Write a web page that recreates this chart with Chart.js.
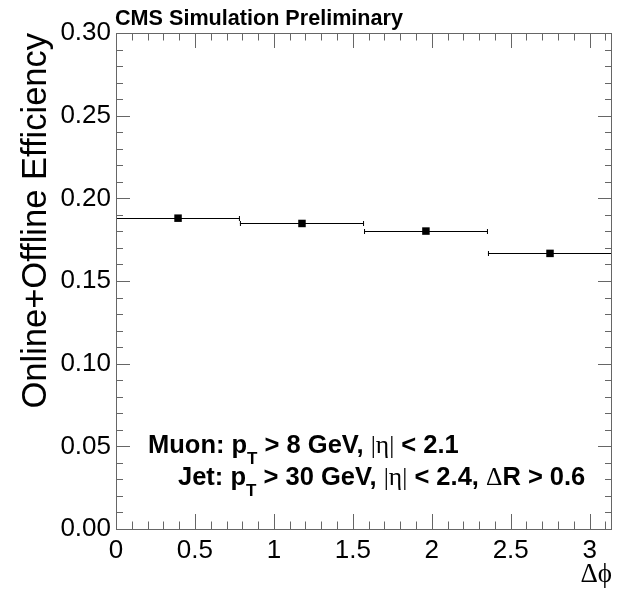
<!DOCTYPE html>
<html>
<head>
<meta charset="utf-8">
<style>
  html, body { margin: 0; padding: 0; background: #fff; }
  #wrap { width: 625px; height: 591px; }
</style>
<script src="https://cdn.jsdelivr.net/npm/chart.js"></script>
</head>
<body>
<div id="wrap"><canvas id="effChart" width="625" height="591"></canvas></div>
<script>
    // bins in delta phi (0 .. pi, four bins)
    const binLow = [0, 0.785, 1.571, 2.356];
    const binHigh = [0.785, 1.571, 2.356, 3.1416];
    const binCenters = [0.393, 1.178, 1.963, 2.749];
    const efficiency = [0.188, 0.1848, 0.1802, 0.1667];

    const xTickValues = [0, 0.5, 1, 1.5, 2, 2.5, 3];
    const xTickLabels = ['0', '0.5', '1', '1.5', '2', '2.5', '3'];
    const yTickLabels = ['0.00', '0.05', '0.10', '0.15', '0.20', '0.25', '0.30'];

    const headerText = 'CMS Simulation Preliminary';
    const muonLine = [['Muon: p', 'b'], ['T', 's'], [' > 8 GeV, ', 'b'], ['|\u03B7|', 'g'], [' < 2.1', 'b']];
    const jetLine = [['Jet: p', 'b'], ['T', 's'], [' > 30 GeV, ', 'b'], ['|\u03B7|', 'g'], [' < 2.4, ', 'b'], ['\u0394', 'g'], ['R > 0.6', 'b']];

    const fonts = {
        b: 'bold 25.5px "Liberation Sans", Arial, sans-serif',
        s: 'bold 17px "Liberation Sans", Arial, sans-serif',
        g: '25.5px "Liberation Serif", "Times New Roman", serif'
    };

    function drawLatex(ctx, parts, x, y) {
        parts.forEach(([txt, kind]) => {
            ctx.font = fonts[kind];
            ctx.fillText(txt, x, kind === 's' ? y + 11 : y);
            x += ctx.measureText(txt).width;
        });
    }

    // ROOT style frame: inward major/minor ticks on all sides, error bars, labels
    const rootFrame = {
        id: 'rootFrame',
        afterDatasetsDraw(chart) {
            const ctx = chart.ctx;
            const xs = chart.scales.x, ys = chart.scales.y;
            const a = chart.chartArea;
            ctx.save();

            // horizontal bin-width bars
            ctx.strokeStyle = '#000';
            ctx.lineWidth = 1;
            binLow.forEach((lo, i) => {
                const x1 = xs.getPixelForValue(lo), x2 = xs.getPixelForValue(binHigh[i]);
                const py = Math.round(ys.getPixelForValue(efficiency[i])) + 0.5;
                ctx.beginPath();
                ctx.moveTo(x1, py); ctx.lineTo(x2, py);
                ctx.moveTo(x1 + 0.5, py - 2.5); ctx.lineTo(x1 + 0.5, py + 2.5);
                ctx.moveTo(x2 - 0.5, py - 2.5); ctx.lineTo(x2 - 0.5, py + 2.5);
                ctx.stroke();
            });

            ctx.strokeStyle = '#666';
            ctx.lineWidth = 1;
            ctx.beginPath();
            // x ticks, every 0.1, major every 0.5
            for (let k = 0; k <= 31; k++) {
                const v = k / 10;
                const px = Math.round(xs.getPixelForValue(v)) + 0.5;
                const len = (k % 5 === 0) ? 15 : 7.5;
                ctx.moveTo(px, a.bottom); ctx.lineTo(px, a.bottom - len);
                ctx.moveTo(px, a.top); ctx.lineTo(px, a.top + len);
            }
            // y ticks, every 0.01, major every 0.05
            for (let k = 0; k <= 30; k++) {
                const v = k / 100;
                const py = Math.round(ys.getPixelForValue(v)) + 0.5;
                const len = (k % 5 === 0) ? 14 : 7;
                ctx.moveTo(a.left, py); ctx.lineTo(a.left + len, py);
                ctx.moveTo(a.right, py); ctx.lineTo(a.right - len, py);
            }
            ctx.stroke();
            ctx.strokeRect(Math.round(a.left) + 0.5, Math.round(a.top) + 0.5,
                Math.round(a.right - a.left) - 1, Math.round(a.bottom - a.top));

            ctx.fillStyle = '#000';
            ctx.textAlign = 'left';
            ctx.textBaseline = 'alphabetic';
            ctx.font = 'bold 21.6px "Liberation Sans", Arial, sans-serif';
            ctx.fillText(headerText, a.left - 1, 25);

            drawLatex(ctx, muonLine, 148, 453);
            drawLatex(ctx, jetLine, 178, 485);
            ctx.restore();
        }
    };

    const ctx = document.getElementById('effChart').getContext('2d');
    const effChart = new Chart(ctx, {
        type: 'scatter',
        data: {
            datasets: [{
                data: binCenters.map((x, i) => ({x: x, y: efficiency[i]})),
                pointStyle: 'rect',
                pointRadius: 5.3,
                pointHoverRadius: 5.3,
                backgroundColor: '#000',
                borderColor: '#000',
                borderWidth: 0
            }]
        },
        options: {
            responsive: false,
            animation: false,
            events: [],
            layout: { padding: { top: 33, right: 13, left: 0, bottom: 0 } },
            plugins: { legend: { display: false }, tooltip: { enabled: false } },
            scales: {
                x: {
                    type: 'linear',
                    min: 0,
                    max: 3.1416,
                    afterFit: (s) => { s.height = 62; },
                    afterBuildTicks: (s) => { s.ticks = xTickValues.map(v => ({value: v})); },
                    grid: { display: false, drawTicks: false, tickLength: 0 },
                    border: { display: false },
                    ticks: {
                        padding: 6,
                        color: '#000',
                        font: { family: '"Liberation Sans", Arial, sans-serif', size: 26 },
                        callback: (v, i) => xTickLabels[i]
                    },
                    title: {
                        display: true,
                        text: '\u0394\u03D5',
                        align: 'end',
                        color: '#000',
                        padding: 0,
                        font: { family: '"Liberation Serif", "Times New Roman", serif', size: 27 }
                    }
                },
                y: {
                    min: 0,
                    max: 0.30,
                    afterFit: (s) => { s.width = 116; },
                    grid: { display: false, drawTicks: false, tickLength: 0 },
                    border: { display: false },
                    ticks: {
                        stepSize: 0.05,
                        padding: 5,
                        color: '#000',
                        font: { family: '"Liberation Sans", Arial, sans-serif', size: 26 },
                        callback: (v, i) => yTickLabels[i]
                    },
                    title: {
                        display: true,
                        text: 'Online+Offline Efficiency',
                        align: 'end',
                        color: '#000',
                        padding: { top: 16, bottom: 0 },
                        font: { family: '"Liberation Sans", Arial, sans-serif', size: 34.5 }
                    }
                }
            }
        },
        plugins: [rootFrame]
    });
</script>
</body>
</html>
